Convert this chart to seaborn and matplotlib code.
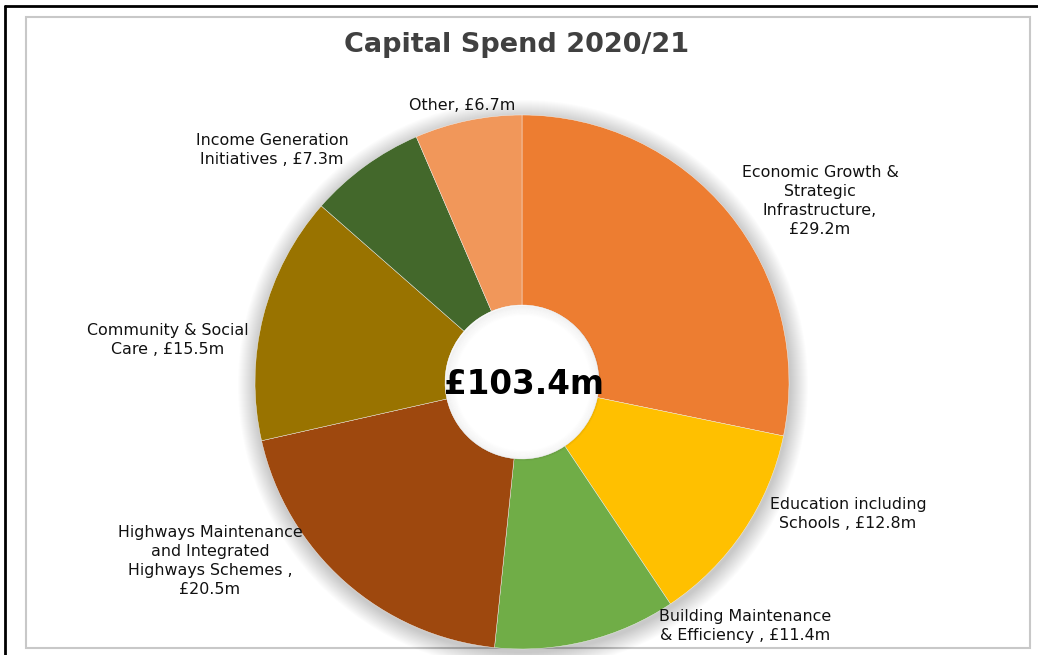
import numpy as np
import pandas as pd
import seaborn as sns
from matplotlib import pyplot as plt
from matplotlib.patches import Circle, Rectangle

# data (clockwise from 12 o'clock)
categories = ['Economic Growth &\nStrategic\nInfrastructure,\n£29.2m',
              'Education including\nSchools , £12.8m',
              'Building Maintenance\n& Efficiency , £11.4m',
              'Highways Maintenance\nand Integrated\nHighways Schemes ,\n£20.5m',
              'Community & Social\nCare , £15.5m',
              'Income Generation\nInitiatives , £7.3m',
              'Other, £6.7m']
spend = [29.2, 12.8, 11.4, 20.5, 15.5, 7.3, 6.7]
total_label = '£103.4m'
title = 'Capital Spend 2020/21'

colors = ['#ED7D31', '#FFC000', '#70AD47', '#9E480E', '#997300', '#43682B', '#F1975A']

# label anchor positions (pixels, origin bottom-left)
label_pos = [(820, 454), (848, 141), (745, 29), (210, 94), (168, 315), (272, 505), (462, 549)]

sns.set_theme(style="white")
plt.rcParams['font.family'] = ['DejaVu Sans']

W, H = 1038, 655
fig = plt.figure(figsize=(W / 100, H / 100), dpi=100)
ax = fig.add_axes([0, 0, 1, 1])

cx, cy = 522, 273
r_out, r_in = 267, 77

# soft shadow around the ring
for k in range(18, 0, -1):
    ax.add_patch(Circle((cx + 1, cy - 3), r_out + k, color='black', alpha=0.01, lw=0, zorder=1))

df = pd.DataFrame({'label': categories, 'spend': spend})
wedges, _ = ax.pie(df['spend'], colors=colors, startangle=90, counterclock=False,
                   center=(cx, cy), radius=r_out,
                   wedgeprops=dict(width=r_out - r_in, linewidth=0.3, edgecolor='#f4f4f4'))
for w in wedges:
    w.set_zorder(2)

# inner shadow in the hole
ax.add_patch(Circle((cx, cy), r_in, color='white', lw=0, zorder=3))
for k in range(10):
    ax.add_patch(Circle((cx + 1, cy - 1), r_in - k, fill=False, lw=1.2,
                        edgecolor='black', alpha=0.035 * (10 - k) / 10, zorder=4))

ax.text(cx + 2, cy - 2, total_label, ha='center', va='center', fontsize=23.5,
        fontweight='bold', color='black', zorder=5)

for lab, (x, y) in zip(df['label'], label_pos):
    ax.text(x, y, lab, ha='center', va='center', fontsize=11.4, color='#111111',
            linespacing=1.32, zorder=5)

ax.text(517, H - 45, title, ha='center', va='center', fontsize=19.5,
        fontweight='bold', color='#404040')

# frames
ax.add_patch(Rectangle((26, H - 648), 1004, 631, fill=False, edgecolor='#c8c8c8', lw=1.5, zorder=0))
ax.plot([5, 5], [0, H - 6], color='black', lw=2)
ax.plot([5, W], [H - 6, H - 6], color='black', lw=2)

ax.set_xlim(0, W)
ax.set_ylim(0, H)
ax.set_aspect('equal')
ax.axis('off')

fig.savefig('out.png', dpi=100)
